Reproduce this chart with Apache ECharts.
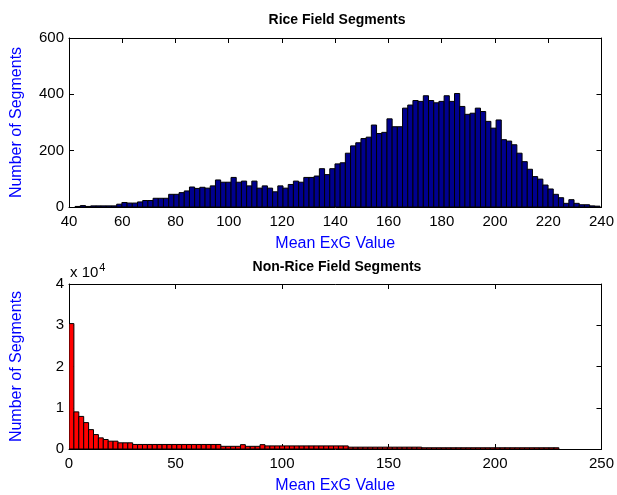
<!DOCTYPE html>
<html><head><meta charset="utf-8">
<script src="https://cdn.jsdelivr.net/npm/echarts@6/dist/echarts.min.js"></script>
<style>html,body{margin:0;padding:0;background:#fff}#c{width:617px;height:495px}</style>
</head><body><div id="c"></div>
<script>
// ---- data ----
const riceTitle = 'Rice Field Segments';
const nonRiceTitle = 'Non-Rice Field Segments';
const xName = 'Mean ExG Value';
const yName = 'Number of Segments';

const riceBinStart = 42.3;
const riceBinWidth = 1.952;
const riceCounts = [
  2, 5, 2, 4, 4, 4, 4, 4, 10, 16,
  14, 14, 18, 23, 23, 31, 31, 31, 45, 45,
  51, 57, 71, 66, 70, 67, 75, 96, 88, 88,
  105, 88, 92, 75, 92, 67, 75, 67, 54, 75,
  67, 80, 92, 88, 105, 105, 110, 136, 115, 136,
  153, 157, 191, 217, 228, 243, 248, 291, 261, 265,
  313, 285, 285, 351, 362, 378, 375, 395, 378, 370,
  375, 395, 375, 403, 357, 329, 333, 351, 339, 304,
  280, 309, 239, 234, 221, 191, 161, 134, 108, 99,
  78, 64, 45, 33, 13, 26, 13, 8, 8, 4,
  3
];

const nonRiceBinStart = 0;
const nonRiceBinWidth = 2.3;
const nonRiceCounts = [
  30400, 9000, 7900, 6400, 4700, 3500, 2700, 2300, 1900, 1900,
  1500, 1500, 1500, 1100, 1100, 1100, 1100, 1100, 1100, 1100,
  1100, 1100, 1100, 1100, 1100, 1100, 1100, 1100, 1100, 1100,
  1100, 650, 650, 650, 650, 1050, 650, 650, 650, 1050,
  750, 750, 750, 750, 750, 750, 750, 750, 750, 750,
  750, 750, 750, 750, 750, 750, 750, 450, 450, 450,
  450, 450, 450, 450, 450, 450, 450, 450, 450, 450,
  450, 450, 300, 300, 300, 300, 300, 300, 300, 300,
  300, 300, 300, 300, 300, 300, 300, 300, 300, 300,
  300, 300, 300, 300, 300, 300, 300, 300, 300, 300
];

const riceX = {min: 40, max: 240, interval: 20};
const riceY = {min: 0, max: 600, interval: 200};
const nonRiceX = {min: 0, max: 250, interval: 50};
const nonRiceY = {min: 0, max: 40000, interval: 10000};

// ---- chart ----
const FONT = '"Liberation Sans", Arial, Helvetica, sans-serif';
function toBins(start, width, counts) {
  return counts.map((c, i) => [start + i * width, start + (i + 1) * width, c]);
}
function barRenderer(fill) {
  return function (params, api) {
    const p0 = api.coord([api.value(0), api.value(2)]);
    const p1 = api.coord([api.value(1), 0]);
    return {
      type: 'rect',
      shape: {x: p0[0], y: p0[1], width: p1[0] - p0[0], height: p1[1] - p0[1]},
      style: {fill: fill, stroke: '#000', lineWidth: 1}
    };
  };
}
const lineStyle = {color: '#000', width: 1};
function xAx(grid, r, pos, showLabel, name) {
  return {
    type: 'value', gridIndex: grid, position: pos, min: r.min, max: r.max, interval: r.interval,
    axisLine: {show: true, onZero: false, lineStyle},
    axisTick: {show: true, inside: true, length: 5, lineStyle},
    axisLabel: {show: showLabel, color: '#000', fontSize: 15, fontFamily: FONT, margin: 7},
    splitLine: {show: false},
    name: name || '', nameLocation: 'middle', nameGap: 29,
    nameTextStyle: {color: '#0000ff', fontSize: 16, fontFamily: FONT}
  };
}
function yAx(grid, r, pos, showLabel, name, fmt) {
  return {
    type: 'value', gridIndex: grid, position: pos, min: r.min, max: r.max, interval: r.interval,
    axisLine: {show: true, onZero: false, lineStyle},
    axisTick: {show: true, inside: true, length: 5, lineStyle},
    axisLabel: {show: showLabel, color: '#000', fontSize: 15, fontFamily: FONT, margin: 5, formatter: fmt},
    splitLine: {show: false},
    name: name || '', nameLocation: 'middle', nameGap: 44, nameRotate: 90,
    nameTextStyle: {color: '#0000ff', fontSize: 16, fontFamily: FONT}
  };
}

const chart = echarts.init(document.getElementById('c'), null, {renderer: 'canvas'});
chart.setOption({
  backgroundColor: '#fff',
  animation: false,
  title: [
    {text: riceTitle, left: 337, top: 13, textAlign: 'center', padding: 0,
     textStyle: {fontSize: 14, fontWeight: 'bold', color: '#000', fontFamily: FONT}},
    {text: nonRiceTitle, left: 337, top: 260, textAlign: 'center', padding: 0,
     textStyle: {fontSize: 14, fontWeight: 'bold', color: '#000', fontFamily: FONT}}
  ],
  grid: [
    {left: 69, top: 38, width: 537, height: 169},
    {left: 69, top: 284, width: 537, height: 169}
  ],
  xAxis: [
    xAx(0, riceX, 'bottom', true, xName),
    xAx(0, riceX, 'top', false),
    xAx(1, nonRiceX, 'bottom', true, xName),
    xAx(1, nonRiceX, 'top', false)
  ],
  yAxis: [
    yAx(0, riceY, 'left', true, yName),
    yAx(0, riceY, 'right', false),
    yAx(1, nonRiceY, 'left', true, yName, v => String(v / 10000)),
    yAx(1, nonRiceY, 'right', false)
  ],
  graphic: [
    {type: 'text', left: 70, top: 262,
     style: {text: '{a|x 10}{b|4}', rich: {
       a: {fontSize: 15, fontFamily: FONT, fill: '#000', verticalAlign: 'bottom', lineHeight: 18},
       b: {fontSize: 11, fontFamily: FONT, fill: '#000', verticalAlign: 'top', padding: [0, 0, 8, 1], lineHeight: 18}
     }}}
  ],
  series: [
    {type: 'custom', xAxisIndex: 0, yAxisIndex: 0, clip: true,
     renderItem: barRenderer('#00008f'),
     encode: {x: [0, 1], y: 2},
     data: toBins(riceBinStart, riceBinWidth, riceCounts)},
    {type: 'custom', xAxisIndex: 2, yAxisIndex: 2, clip: true,
     renderItem: barRenderer('#ff0000'),
     encode: {x: [0, 1], y: 2},
     data: toBins(nonRiceBinStart, nonRiceBinWidth, nonRiceCounts)}
  ]
});
</script></body></html>
